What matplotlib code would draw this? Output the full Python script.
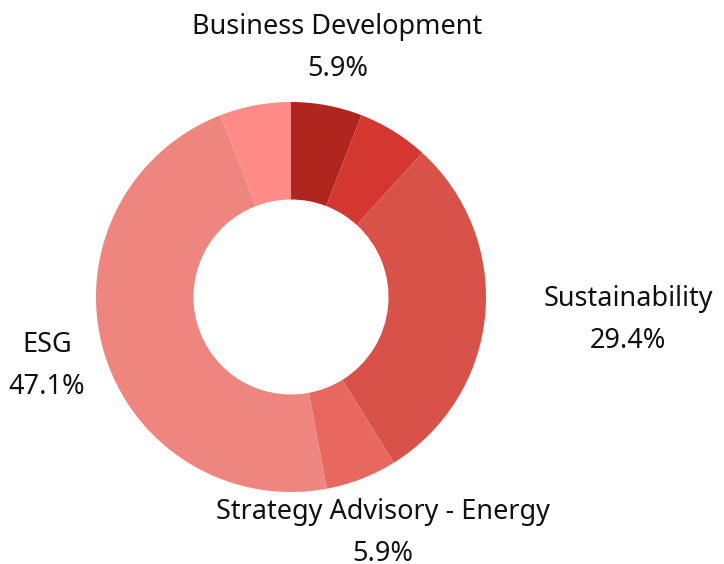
import numpy as np
import matplotlib
matplotlib.use("Agg")
import matplotlib.pyplot as plt

# --- data (counts, percentages) ---
categories = ["Business Development", "", "Sustainability",
              "Strategy Advisory - Energy", "ESG", ""]
counts = [1, 1, 5, 1, 8, 1]
colors = ["#B0251E", "#D3372F", "#D9524A", "#E8675F", "#EE857E", "#FF8B87"]

plt.rcParams['font.family'] = ['Noto Sans', 'DejaVu Sans']

W, H = 724, 564
R = 195.0          # outer radius in px
cx, cy = 291, 297  # centre in px (from top-left)

fig = plt.figure(figsize=(W / 100, H / 100), dpi=100)
ax = fig.add_axes([0, 0, 1, 1])
ax.axis('off')

wedges, _ = ax.pie(counts, colors=colors, startangle=90, counterclock=False,
                   radius=1.0, wedgeprops=dict(width=0.5, linewidth=0))
ax.set_xlim(-cx / R, (W - cx) / R)
ax.set_ylim(-(H - cy) / R, cy / R)
ax.set_aspect('auto')

total = sum(counts)
for w, name, n in zip(wedges, categories, counts):
    if not name:
        continue
    ang = np.deg2rad((w.theta1 + w.theta2) / 2)
    r = 1.3
    x, y = r * np.cos(ang), r * np.sin(ang)
    ha = 'left' if np.cos(ang) > 0.9 else 'center'
    ax.text(x, y, f"{name}\n{100 * n / total:.1f}%", ha=ha, va='center',
            multialignment='center', fontsize=19.5, linespacing=1.66,
            color='#111111')

plt.savefig('out.png', dpi=100)
